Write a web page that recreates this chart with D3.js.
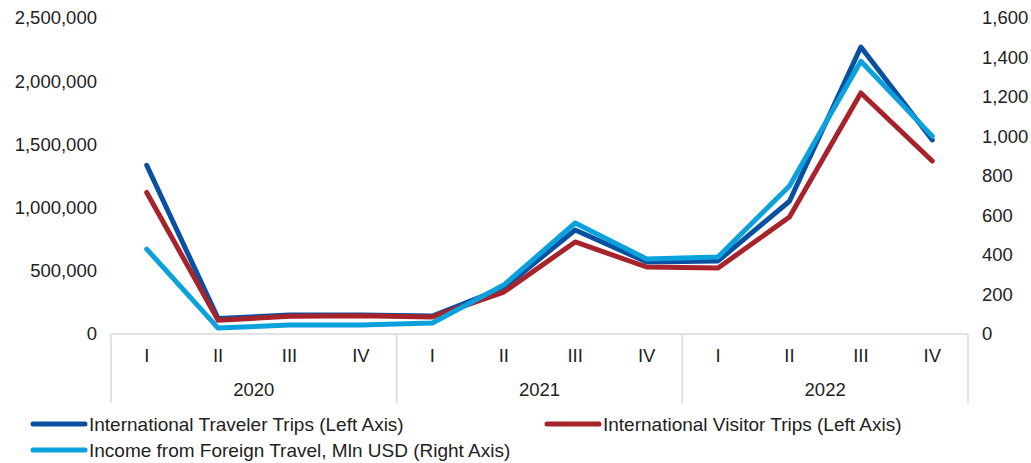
<!DOCTYPE html>
<html>
<head>
<meta charset="utf-8">
<script src="https://cdn.jsdelivr.net/npm/d3@7"></script>
<style>
  body { margin: 0; background: #fff; }
  text { font-family: "Liberation Sans", Arial, sans-serif; fill: #222; }
</style>
</head>
<body>
<svg id="chart" width="1031" height="463"></svg>
<script>
var years = ["2020", "2021", "2022"];
var quarters = ["I", "II", "III", "IV"];

var travelerTrips = [1335000, 122000, 150000, 150000, 142000, 365000, 823000, 570000, 578000, 1050000, 2270000, 1535000];
var visitorTrips = [1120000, 108000, 140000, 145000, 135000, 332000, 728000, 530000, 522000, 925000, 1907000, 1369000];
var foreignIncome = [430, 30, 45, 45, 56, 248, 562, 380, 390, 749, 1381, 1002];

var leftTicks = [0, 500000, 1000000, 1500000, 2000000, 2500000];
var rightTicks = [0, 200, 400, 600, 800, 1000, 1200, 1400, 1600];

var seriesNames = [
  "International Traveler Trips (Left Axis)",
  "International Visitor Trips (Left Axis)",
  "Income from Foreign Travel, Mln USD (Right Axis)"
];
var colors = ["#0a50a1", "#a6232b", "#0aa1dc"];

var plotLeft = 111, plotRight = 968, plotTop = 18, plotBottom = 334;
var fontSize = "18.5px";

var cats = [];
years.forEach(function(y) {
  quarters.forEach(function(q) { cats.push(y + "-" + q); });
});

var x = d3.scaleBand().domain(cats).range([plotLeft, plotRight]);
var yL = d3.scaleLinear().domain([0, 2500000]).range([plotBottom, plotTop]);
var yR = d3.scaleLinear().domain([0, 1600]).range([plotBottom, plotTop]);

var svg = d3.select("#chart");
var fmt = d3.format(",");

// left axis labels
svg.append("g").selectAll("text")
  .data(leftTicks)
  .enter().append("text")
  .attr("x", 97)
  .attr("y", function(d) { return yL(d); })
  .attr("dy", "0.35em")
  .attr("text-anchor", "end")
  .style("font-size", fontSize)
  .text(function(d) { return fmt(d); });

// right axis labels
svg.append("g").selectAll("text")
  .data(rightTicks)
  .enter().append("text")
  .attr("x", 982)
  .attr("y", function(d) { return yR(d); })
  .attr("dy", "0.35em")
  .attr("text-anchor", "start")
  .style("font-size", fontSize)
  .text(function(d) { return fmt(d); });

// x axis line + year dividers
svg.append("line")
  .attr("x1", plotLeft).attr("x2", plotRight)
  .attr("y1", plotBottom).attr("y2", plotBottom)
  .attr("stroke", "#d9d9d9").attr("stroke-width", 1.5);

var dividers = [0, 4, 8, 12];
svg.append("g").selectAll("line")
  .data(dividers)
  .enter().append("line")
  .attr("x1", function(i) { return plotLeft + i * x.bandwidth(); })
  .attr("x2", function(i) { return plotLeft + i * x.bandwidth(); })
  .attr("y1", plotBottom).attr("y2", 403)
  .attr("stroke", "#d9d9d9").attr("stroke-width", 1.5);

// quarter labels
svg.append("g").selectAll("text")
  .data(cats)
  .enter().append("text")
  .attr("x", function(d) { return x(d) + x.bandwidth() / 2; })
  .attr("y", 356)
  .attr("dy", "0.35em")
  .attr("text-anchor", "middle")
  .style("font-size", fontSize)
  .text(function(d) { return d.split("-")[1]; });

// year labels
svg.append("g").selectAll("text")
  .data(years)
  .enter().append("text")
  .attr("x", function(d, i) { return plotLeft + (i * 4 + 2) * x.bandwidth(); })
  .attr("y", 390)
  .attr("dy", "0.35em")
  .attr("text-anchor", "middle")
  .style("font-size", fontSize)
  .text(function(d) { return d; });

// lines
var series = [
  { values: travelerTrips, scale: yL },
  { values: visitorTrips, scale: yL },
  { values: foreignIncome, scale: yR }
];

series.forEach(function(s, k) {
  var line = d3.line()
    .x(function(d, i) { return x(cats[i]) + x.bandwidth() / 2; })
    .y(function(d) { return s.scale(d); });
  svg.append("path")
    .datum(s.values)
    .attr("d", line)
    .attr("fill", "none")
    .attr("stroke", colors[k])
    .attr("stroke-width", 5)
    .attr("stroke-linejoin", "round")
    .attr("stroke-linecap", "round");
});

// legend
var legendPos = [[31, 424], [545, 424], [31, 450]];
var legend = svg.append("g").selectAll("g")
  .data(seriesNames)
  .enter().append("g")
  .attr("transform", function(d, i) { return "translate(" + legendPos[i][0] + "," + legendPos[i][1] + ")"; });

legend.append("line")
  .attr("x1", 2).attr("x2", 54)
  .attr("y1", 0).attr("y2", 0)
  .attr("stroke", function(d, i) { return colors[i]; })
  .attr("stroke-width", 5)
  .attr("stroke-linecap", "round");

legend.append("text")
  .attr("x", 58)
  .attr("y", 0)
  .attr("dy", "0.35em")
  .style("font-size", "19px")
  .text(function(d) { return d; });
</script>
</body>
</html>
